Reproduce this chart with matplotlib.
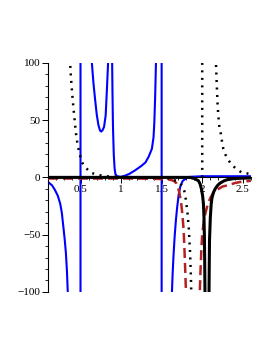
import numpy as np
import matplotlib
matplotlib.use("Agg")
import matplotlib.pyplot as plt
from matplotlib.ticker import MultipleLocator

# values (branches leaving the view go past +-100 and get clipped)
blue_x = [0.10, 0.116, 0.15, 0.185, 0.22, 0.25, 0.27, 0.29, 0.305, 0.32, 0.333, 0.343, 0.36, 0.50,
          0.50, 0.62, 0.64, 0.66, 0.68, 0.70, 0.72, 0.74, 0.755, 0.77, 0.79, 0.81, 0.825, 0.84,
          0.86, 0.88, 0.89, 0.895, 0.90, 0.91, 0.92, 0.93, 0.95, 1.00, 1.05, 1.10, 1.17, 1.25,
          1.30, 1.34, 1.38, 1.40, 1.41, 1.42, 1.43, 1.45, 1.50,
          1.50, 1.60, 1.627, 1.635, 1.645, 1.66, 1.675, 1.69, 1.71, 1.73, 1.76, 1.80, 1.85,
          2.00, 2.30, 2.60]
blue_y = [-4, -5, -7, -11, -16, -23, -31, -44, -54, -66, -82, -100, -140, -140,
          140, 130, 100, 82, 68, 55, 46, 41, 40, 41, 44, 54, 76, 100,
          130, 130, 100, 70, 45, 20, 8, 3, 1, 0.5, 1.5, 3, 6, 10,
          13, 18, 25, 35, 48, 70, 100, 140, 140,
          -140, -130, -100, -85, -70, -52, -38, -27, -15, -8, -3, -1, 0.5,
          1, 1, 1]

dot_x = [0.355, 0.37, 0.38, 0.39, 0.40, 0.41, 0.43, 0.445, 0.465, 0.495, 0.52, 0.55, 0.57, 0.60,
         0.63, 0.70, 0.80, 1.00, 1.40, 1.60, 1.68, 1.72, 1.75, 1.78, 1.80, 1.82, 1.835, 1.85,
         1.86, 1.865, 1.87]
dot_y = [130, 102, 90, 80, 71, 63, 48, 38, 28, 19, 13, 9.5, 8, 6,
         4, 2.5, 1, 0.3, 0, -1, -3, -5, -7, -12, -20, -32, -45, -65,
         -85, -100, -140]
dot2_x = [2.0, 2.0, 2.10, 2.165, 2.17, 2.18, 2.19, 2.20, 2.21, 2.225, 2.24, 2.26, 2.285, 2.31,
          2.35, 2.41, 2.49, 2.60]
dot2_y = [0, 150, 150, 130, 98, 80, 63, 53, 45, 40, 33, 25, 20, 17,
          12, 8, 4, 3]

red_x = [0.10, 0.60, 1.20, 1.55, 1.60, 1.65, 1.68, 1.70, 1.72, 1.74, 1.755, 1.77, 1.78, 1.79,
         1.80, 1.805, 1.96,
         1.97, 1.98, 1.99, 2.00, 2.02, 2.04, 2.07, 2.10, 2.14, 2.18, 2.25, 2.31, 2.40, 2.47, 2.60]
red_y = [-1, -1, -1, -1.5, -2, -3, -5, -8, -14, -22, -32, -45, -60, -80,
         -100, -140, -140,
         -100, -80, -62, -50, -38, -31, -23, -18, -13, -11, -8, -7, -5, -4, -3]

blk_x = [0.10, 1.00, 1.70, 1.85, 1.90, 1.93, 1.955, 1.975, 1.99, 2.005, 2.015, 2.022, 2.027,
         2.031, 2.034, 2.04, 2.08, 2.084, 2.087, 2.09, 2.10, 2.11, 2.12, 2.14, 2.16, 2.19,
         2.22, 2.27, 2.31, 2.40, 2.47, 2.60]
blk_y = [0, 0, 0, 0, -1, -2, -3, -6, -10, -16, -23, -35, -52,
         -75, -100, -140, -140, -100, -75, -55, -35, -24, -18, -13, -10, -7,
         -5, -3, -2, -1, -0.8, -0.5]

plt.rcParams['font.family'] = ['Liberation Serif', 'DejaVu Serif']

fig = plt.figure(figsize=(2.73, 3.53), dpi=100)
ax = fig.add_axes([0.176, 0.173, 0.743, 0.649])

ax.plot(blue_x, blue_y, color='#0000ff', lw=1.5, zorder=2)
ax.plot(red_x, red_y, color='#b22222', lw=1.8, ls=(0, (4, 2)), zorder=3)
ax.plot(dot_x, dot_y, color='black', lw=1.8, ls=(0, (0.8, 2.2)), zorder=3)
ax.plot(dot2_x, dot2_y, color='black', lw=1.8, ls=(0, (0.8, 2.2)), zorder=3)
ax.plot(blk_x, blk_y, color='black', lw=2.2, zorder=4)

ax.set_xlim(0.1, 2.6)
ax.set_ylim(-100, 100)

ax.spines['top'].set_visible(False)
ax.spines['right'].set_visible(False)
ax.spines['bottom'].set_position(('data', 0))
ax.spines['left'].set_linewidth(0.8)
ax.spines['bottom'].set_linewidth(0.8)

ax.xaxis.set_minor_locator(MultipleLocator(0.1))
ax.yaxis.set_minor_locator(MultipleLocator(10))
ax.set_xticks([0.5, 1, 1.5, 2, 2.5])
ax.set_xticklabels(['0.5', '1', '1.5', '2', '2.5'])
ax.set_yticks([-100, -50, 0, 50, 100])
ax.set_yticklabels(['\u2212100', '\u221250', '0', '50', '100'])
ax.tick_params(which='major', length=4, width=0.7, labelsize=8, pad=1.5)
ax.tick_params(which='minor', length=2, width=0.6)
ax.patch.set_alpha(0)

fig.savefig('out.png', dpi=100)
